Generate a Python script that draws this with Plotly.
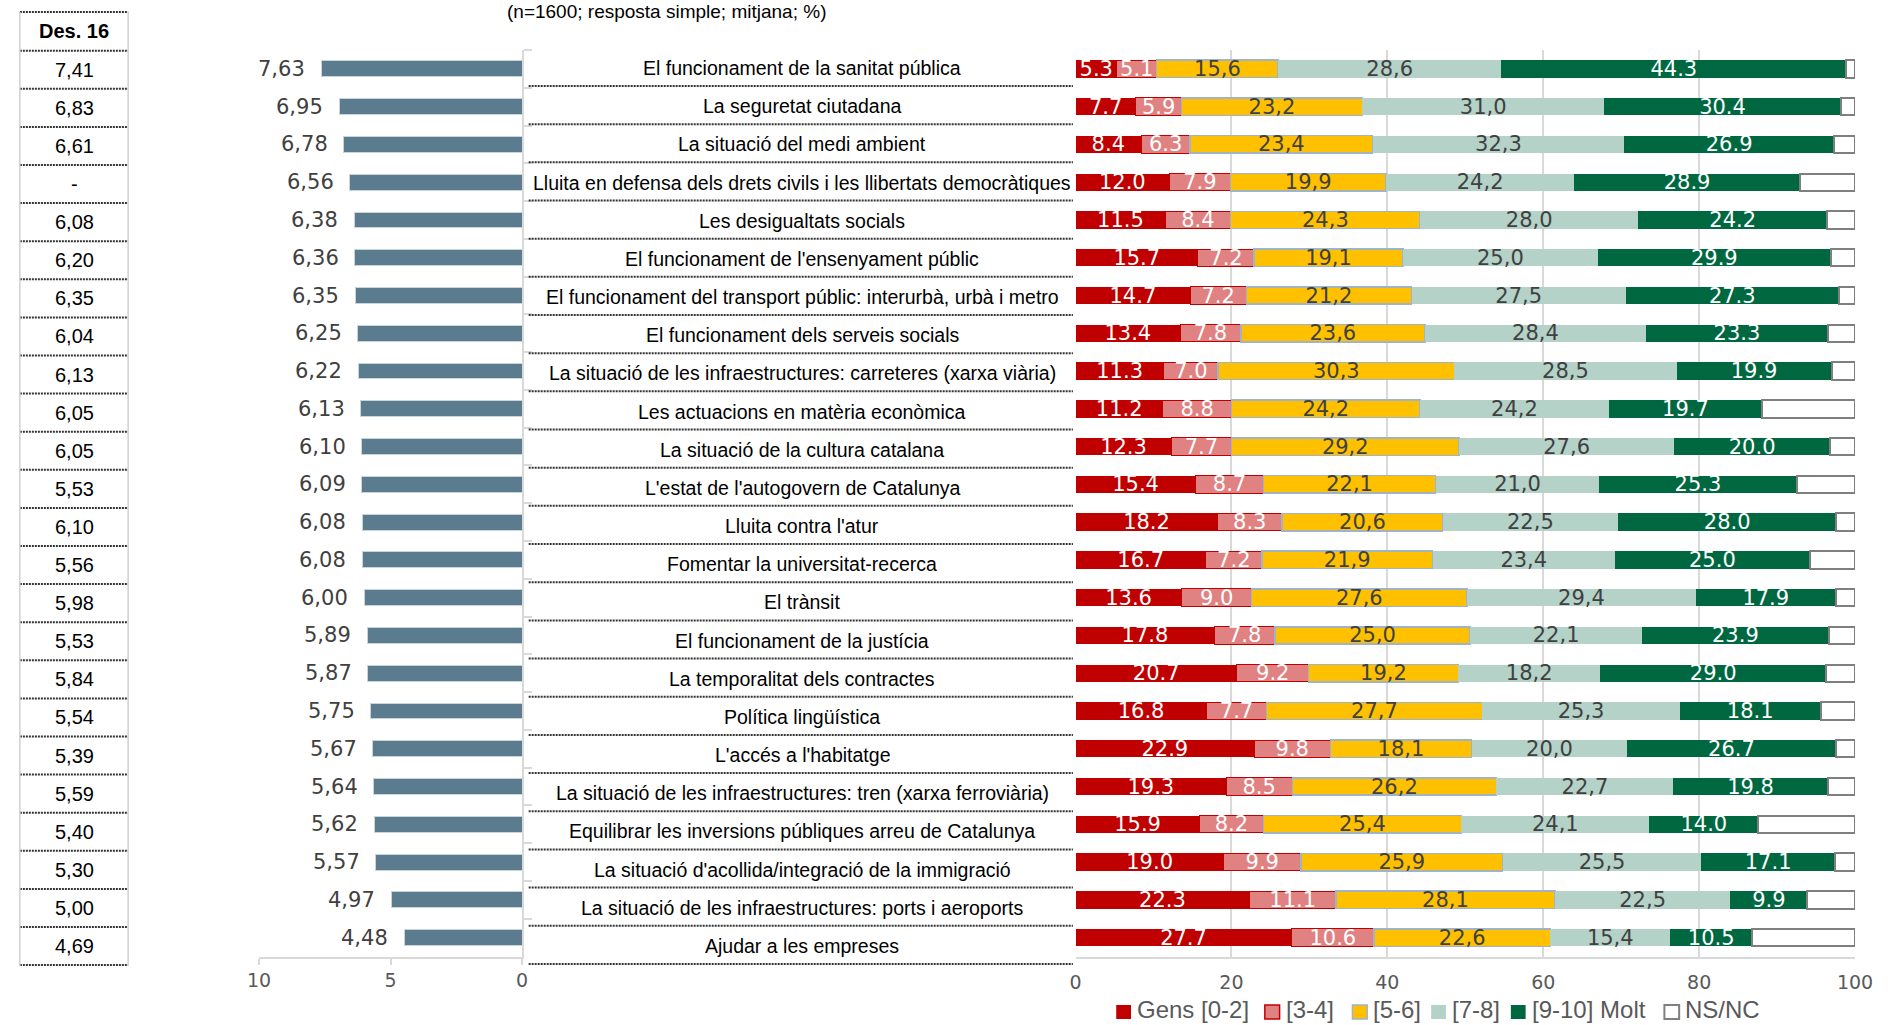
import plotly.graph_objects as go

W, H = 1893, 1025

categories = [
    "El funcionament de la sanitat pública",
    "La seguretat ciutadana",
    "La situació del medi ambient",
    "Lluita en defensa dels drets civils i les llibertats democràtiques",
    "Les desigualtats socials",
    "El funcionament de l'ensenyament públic",
    "El funcionament del transport públic: interurbà, urbà i metro",
    "El funcionament dels serveis socials",
    "La situació de les infraestructures: carreteres (xarxa viària)",
    "Les actuacions en matèria econòmica",
    "La situació de la cultura catalana",
    "L'estat de l'autogovern de Catalunya",
    "Lluita contra l'atur",
    "Fomentar la universitat-recerca",
    "El trànsit",
    "El funcionament de la justícia",
    "La temporalitat dels contractes",
    "Política lingüística",
    "L'accés a l'habitatge",
    "La situació de les infraestructures: tren (xarxa ferroviària)",
    "Equilibrar les inversions públiques arreu de Catalunya",
    "La situació d'acollida/integració de la immigració",
    "La situació de les infraestructures: ports i aeroports",
    "Ajudar a les empreses",
]

mitjana = [7.63, 6.95, 6.78, 6.56, 6.38, 6.36, 6.35, 6.25, 6.22, 6.13, 6.10, 6.09,
           6.08, 6.08, 6.00, 5.89, 5.87, 5.75, 5.67, 5.64, 5.62, 5.57, 4.97, 4.48]

des16 = ["7,41", "6,83", "6,61", "-", "6,08", "6,20", "6,35", "6,04", "6,13", "6,05", "6,05", "5,53",
         "6,10", "5,56", "5,98", "5,53", "5,84", "5,54", "5,39", "5,59", "5,40", "5,30", "5,00", "4,69"]

gens = [5.3, 7.7, 8.4, 12.0, 11.5, 15.7, 14.7, 13.4, 11.3, 11.2, 12.3, 15.4,
        18.2, 16.7, 13.6, 17.8, 20.7, 16.8, 22.9, 19.3, 15.9, 19.0, 22.3, 27.7]
v34 = [5.1, 5.9, 6.3, 7.9, 8.4, 7.2, 7.2, 7.8, 7.0, 8.8, 7.7, 8.7,
       8.3, 7.2, 9.0, 7.8, 9.2, 7.7, 9.8, 8.5, 8.2, 9.9, 11.1, 10.6]
v56 = [15.6, 23.2, 23.4, 19.9, 24.3, 19.1, 21.2, 23.6, 30.3, 24.2, 29.2, 22.1,
       20.6, 21.9, 27.6, 25.0, 19.2, 27.7, 18.1, 26.2, 25.4, 25.9, 28.1, 22.6]
v78 = [28.6, 31.0, 32.3, 24.2, 28.0, 25.0, 27.5, 28.4, 28.5, 24.2, 27.6, 21.0,
       22.5, 23.4, 29.4, 22.1, 18.2, 25.3, 20.0, 22.7, 24.1, 25.5, 22.5, 15.4]
molt = [44.3, 30.4, 26.9, 28.9, 24.2, 29.9, 27.3, 23.3, 19.9, 19.7, 20.0, 25.3,
        28.0, 25.0, 17.9, 23.9, 29.0, 18.1, 26.7, 19.8, 14.0, 17.1, 9.9, 10.5]
nsnc = [1.1, 1.8, 2.7, 7.1, 3.6, 3.1, 2.1, 3.5, 3.0, 11.9, 3.2, 7.5,
        2.4, 5.8, 2.5, 3.4, 3.7, 4.4, 2.5, 3.5, 12.4, 2.6, 6.1, 13.2]

series_names = ["Gens [0-2]", "[3-4]", "[5-6]", "[7-8]", "[9-10] Molt", "NS/NC"]


def px(x):
    return x / W


def py(y):
    return 1 - y / H


FONT = "Arial, Liberation Sans, sans-serif"
NUMFONT = "DejaVu Sans, sans-serif"
GRAY = "#595959"

fig = go.Figure()

# left: mean scores
fig.add_trace(go.Bar(
    x=mitjana, y=categories, orientation="h", width=0.42,
    marker=dict(color="#5B7C8E", line=dict(color="#c9d4db", width=1)),
    showlegend=False, xaxis="x", yaxis="y",
))

styles = [
    (gens, "#C00000", dict(color="#C00000", width=0), "white", "."),
    (v34, "#E08282", dict(color="#C00000", width=1), "white", "."),
    (v56, "#FFC000", dict(color="#9FB4C7", width=1.5), "#404040", ","),
    (v78, "#B4D2C8", dict(color="#B4D2C8", width=0), "#404040", ","),
    (molt, "#006841", dict(color="#006841", width=0), "white", "."),
    (nsnc, "white", dict(color="#7F7F7F", width=2), "#404040", None),
]

for name, (vals, color, line, tcol, sep) in zip(series_names, styles):
    if sep is None:
        labels = None
    else:
        labels = [f"{v:.1f}".replace(".", sep) for v in vals]
    fig.add_trace(go.Bar(
        x=vals, y=categories, orientation="h", name=name, width=0.46,
        marker=dict(color=color, line=line),
        text=labels, textposition="inside", insidetextanchor="middle", textangle=0,
        constraintext="none", cliponaxis=False,
        textfont=dict(size=21, color=tcol, family=NUMFONT),
        xaxis="x2", yaxis="y2", showlegend=False,
    ))

annotations = []
shapes = []

# mean value labels
for c, v in zip(categories, mitjana):
    annotations.append(dict(
        x=v, y=c, xref="x", yref="y", text=f"{v:.2f}".replace(".", ","),
        showarrow=False, xanchor="right", yanchor="middle", xshift=-14,
        font=dict(size=21, color="#404040", family=NUMFONT),
    ))

# category labels column
for i, c in enumerate(categories):
    annotations.append(dict(
        x=px(803), y=py(68 + 38.17 * i), xref="paper", yref="paper", text=c,
        showarrow=False, xanchor="center", yanchor="middle",
        font=dict(size=19.5, color="black", family=FONT),
    ))
    ys = py(86 + 38.17 * i)
    shapes.append(dict(type="line", xref="paper", yref="paper", x0=px(525), x1=px(1078),
                       y0=ys, y1=ys, line=dict(color="#333333", width=2, dash="2px,1px")))

# Des. 16 table
annotations.append(dict(
    x=px(63), y=py(31), xref="paper", yref="paper", text="<b>Des. 16</b>",
    showarrow=False, xanchor="center", yanchor="middle",
    font=dict(size=20, color="black", family=FONT),
))
for i, t in enumerate(des16):
    annotations.append(dict(
        x=px(63), y=py(50.7 + 38.1 * (i + 0.5)), xref="paper", yref="paper", text=t,
        showarrow=False, xanchor="center", yanchor="middle",
        font=dict(size=20, color="black", family=FONT),
    ))
for yy in [12] + [50.7 + 38.1 * k for k in range(25)]:
    shapes.append(dict(type="line", xref="paper", yref="paper", x0=px(8), x1=px(118),
                       y0=py(yy), y1=py(yy), line=dict(color="#333333", width=2, dash="2px,1px")))
for xx in (8, 118):
    shapes.append(dict(type="line", xref="paper", yref="paper", x0=px(xx), x1=px(xx),
                       y0=py(12), y1=py(966), line=dict(color="#d0d0d0", width=1.5)))

# title (sits at the very top edge, as in the source)
annotations.append(dict(
    x=px(665), y=py(11), xref="paper", yref="paper",
    text="(n=1600; resposta simple; mitjana; %)", showarrow=False,
    xanchor="center", yanchor="middle",
    font=dict(size=19, color="black", family=FONT),
))

# legend drawn by hand (tight Excel-like spacing)
legend_x = [1122, 1273, 1362, 1442, 1523, 1679]
for name, (vals, color, line, tcol, sep), lx in zip(series_names, styles, legend_x):
    lw = line["width"]
    shapes.append(dict(type="rect", xref="paper", yref="paper",
                       x0=px(lx), x1=px(lx + 15), y0=py(1019), y1=py(1005),
                       fillcolor=color, line=dict(color=line["color"], width=max(lw, 1.5) if lw else 0)))
    annotations.append(dict(
        x=px(lx + 19), y=py(1009), xref="paper", yref="paper", text=name,
        showarrow=False, xanchor="left", yanchor="middle",
        font=dict(size=24, color=GRAY, family=FONT),
    ))

ydom = [py(956.5), py(50)]

fig.update_layout(
    width=W, height=H,
    margin=dict(l=0, r=0, t=0, b=0),
    paper_bgcolor="white", plot_bgcolor="white",
    barmode="stack", bargap=0.5, showlegend=False,
    font=dict(family=FONT, color=GRAY),
    xaxis=dict(domain=[px(251), px(518.3)], range=[10, 0], tickvals=[0, 5, 10],
               showgrid=False, zeroline=False, showline=True, linecolor="#d9d9d9", linewidth=2,
               ticks="outside", ticklen=6, tickcolor="#d9d9d9", tickwidth=2,
               tickfont=dict(size=19, color=GRAY, family=NUMFONT), anchor="y"),
    yaxis=dict(domain=ydom, autorange="reversed", side="right", showticklabels=False,
               showgrid=False, showline=True, linecolor="#d9d9d9", linewidth=2,
               ticks="outside", tickson="boundaries", ticklen=8, tickcolor="#d9d9d9",
               tickwidth=2, anchor="x"),
    xaxis2=dict(domain=[px(1080.7), px(1872.7)], range=[0, 100], dtick=20,
                showgrid=True, gridcolor="#d9d9d9", gridwidth=2, zeroline=False,
                showline=True, linecolor="#d9d9d9", linewidth=2,
                ticks="outside", ticklen=8, tickcolor="rgba(0,0,0,0)",
                tickfont=dict(size=19, color=GRAY, family=NUMFONT), anchor="y2"),
    yaxis2=dict(domain=ydom, autorange="reversed", showticklabels=False, showgrid=False,
                showline=False, anchor="x2"),
    annotations=annotations,
    shapes=shapes,
)

fig.write_html(
    "out.html",
    config={"displayModeBar": False},
    post_script="document.body.style.margin='0';document.body.style.overflow='hidden';",
)
